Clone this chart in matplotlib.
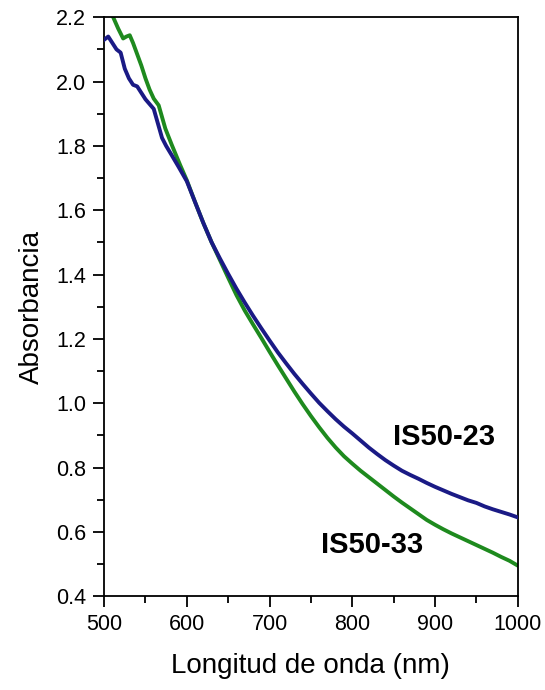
import matplotlib.pyplot as plt
import numpy as np

plt.rcParams["font.family"] = ["Liberation Sans", "DejaVu Sans"]

# IS50-23 (blue)
wl_23 = [500, 505, 510, 515, 520, 525, 530, 535, 540, 545, 550, 555, 560,
         565, 570, 575, 582, 590, 600, 610, 620, 630, 640, 650, 660, 670,
         680, 690, 700, 710, 720, 730, 740, 750, 760, 770, 780, 790, 800,
         810, 820, 830, 840, 850, 860, 870, 880, 890, 900, 910, 920, 930,
         940, 950, 960, 970, 980, 990, 1000]
abs_23 = [2.13, 2.14, 2.12, 2.10, 2.09, 2.04, 2.01, 1.99, 1.985, 1.965, 1.945,
          1.93, 1.915, 1.87, 1.825, 1.80, 1.77, 1.735, 1.69, 1.625, 1.56,
          1.50, 1.45, 1.402, 1.356, 1.313, 1.272, 1.233, 1.195, 1.158, 1.124,
          1.091, 1.06, 1.03, 1.001, 0.975, 0.95, 0.927, 0.906, 0.884,
          0.862, 0.842, 0.823, 0.806, 0.79, 0.777, 0.765, 0.752, 0.74, 0.729,
          0.718, 0.708, 0.698, 0.69, 0.679, 0.67, 0.662, 0.654, 0.645]

# IS50-33 (green)
wl_33 = [500, 505, 511, 517, 523, 527, 531, 535, 539, 545, 550, 555, 560,
         566, 570, 574, 582, 592, 600, 610, 620, 630, 640, 650, 660, 670,
         680, 690, 700, 710, 720, 730, 740, 750, 760, 770, 780, 790, 800,
         810, 820, 830, 840, 850, 860, 870, 880, 890, 900, 910, 920, 930,
         940, 950, 960, 970, 980, 990, 1000]
abs_33 = [2.25, 2.225, 2.20, 2.165, 2.134, 2.14, 2.144, 2.12, 2.092, 2.05,
          2.01, 1.975, 1.947, 1.926, 1.89, 1.854, 1.802, 1.74, 1.693, 1.625,
          1.56, 1.50, 1.445, 1.39, 1.336, 1.288, 1.245, 1.203, 1.16, 1.118,
          1.077, 1.036, 0.997, 0.96, 0.925, 0.892, 0.862, 0.835, 0.812,
          0.79, 0.77, 0.75, 0.73, 0.71, 0.691, 0.673, 0.655, 0.637, 0.622,
          0.608, 0.595, 0.583, 0.571, 0.559, 0.547, 0.535, 0.522, 0.51, 0.495]

fig = plt.figure(figsize=(5.45, 6.9), dpi=100)
ax = fig.add_axes([0.191, 0.136, 0.759, 0.839])

ax.plot(wl_23, abs_23, color="#1a1a85", lw=2.8, zorder=3)
ax.plot(wl_33, abs_33, color="#1e8a1e", lw=2.8, zorder=2)

ax.set_xlim(500, 1000)
ax.set_ylim(0.4, 2.2)
ax.set_xticks(np.arange(500, 1001, 100))
ax.set_xticks(np.arange(550, 1000, 100), minor=True)
ax.set_yticks(np.arange(0.4, 2.21, 0.2))
ax.set_yticks(np.arange(0.5, 2.2, 0.2), minor=True)
ax.yaxis.set_major_formatter(plt.FormatStrFormatter("%.1f"))
ax.tick_params(which="both", direction="out", width=1.3, labelsize=15.5,
               top=False, right=False)
ax.tick_params(which="major", length=8, pad=5)
ax.tick_params(which="minor", length=5)
for s in ax.spines.values():
    s.set_linewidth(1.3)

ax.set_xlabel("Longitud de onda (nm)", fontsize=20, labelpad=13)
ax.set_ylabel("Absorbancia", fontsize=20, labelpad=8)

ax.text(849, 0.894, "IS50-23", fontsize=21, fontweight="bold",
        va="center", ha="left")
ax.text(762, 0.559, "IS50-33", fontsize=21, fontweight="bold",
        va="center", ha="left")

plt.savefig("out.png", dpi=100)
